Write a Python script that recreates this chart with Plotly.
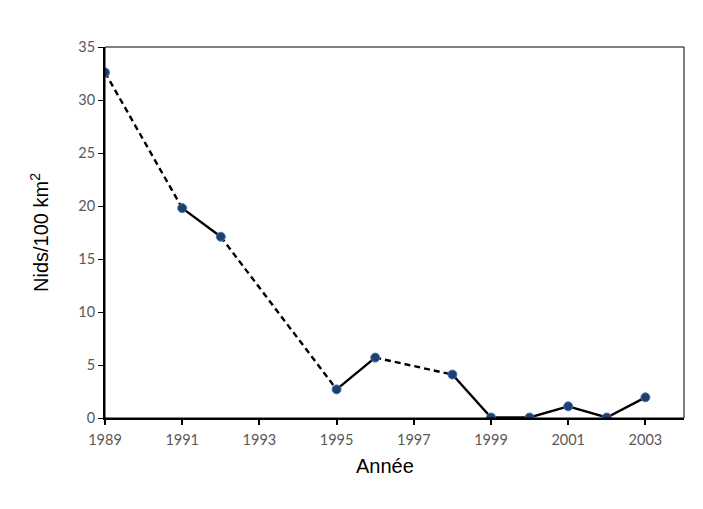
import plotly.graph_objects as go

years = [1989, 1991, 1992, 1995, 1996, 1998, 1999, 2000, 2001, 2002, 2003]
nids = [32.6, 19.8, 17.1, 2.7, 5.7, 4.1, 0.05, 0.05, 1.1, 0.05, 1.95]
# suivi continu entre deux relevés ? False -> liaison en pointillés
suivi = [False, True, False, True, False, True, True, True, True, True]

x_ticks = list(range(1989, 2004, 2))

fig = go.Figure()

for i in range(len(years) - 1):
    fig.add_trace(go.Scatter(
        x=years[i:i + 2], y=nids[i:i + 2], mode="lines",
        line=dict(color="black", width=2.4,
                  dash="solid" if suivi[i] else "6px,4px"),
        showlegend=False, hoverinfo="skip"))

fig.add_trace(go.Scatter(
    x=years, y=nids, mode="markers",
    marker=dict(size=9, color="#1f3f6e", line=dict(color="#4a78b8", width=1)),
    showlegend=False))

fig.add_shape(type="rect", xref="paper", yref="paper", x0=0, y0=0, x1=1, y1=1,
              line=dict(color="black", width=1))

# titre de l'axe x, un peu décalé à gauche comme dans l'original
fig.add_annotation(text="Année", xref="paper", yref="paper", x=0.484, y=0,
                   yshift=-48, showarrow=False, yanchor="middle",
                   font=dict(family="Liberation Sans", size=20, color="black"))

fig.update_layout(
    width=687, height=493,
    margin=dict(l=97, r=11, t=39, b=83),
    plot_bgcolor="white", paper_bgcolor="white",
    font=dict(family="Lato", color="#595959", size=14.5),
    xaxis=dict(range=[1989, 2004], tickvals=x_ticks, showgrid=False, zeroline=False,
               showline=True, linecolor="black", linewidth=2,
               ticks="outside", ticklen=5, tickwidth=2, tickcolor="black",
               ticklabelstandoff=3),
    yaxis=dict(range=[0, 35], dtick=5, showgrid=False, zeroline=False,
               showline=True, linecolor="black", linewidth=2,
               ticks="outside", ticklen=5, tickwidth=1, tickcolor="black",
               title=dict(text="Nids/100 km<sup>2</sup>",
                          font=dict(family="Liberation Sans", size=20, color="black"),
                          standoff=24)),
)

fig.write_html("out.html")
